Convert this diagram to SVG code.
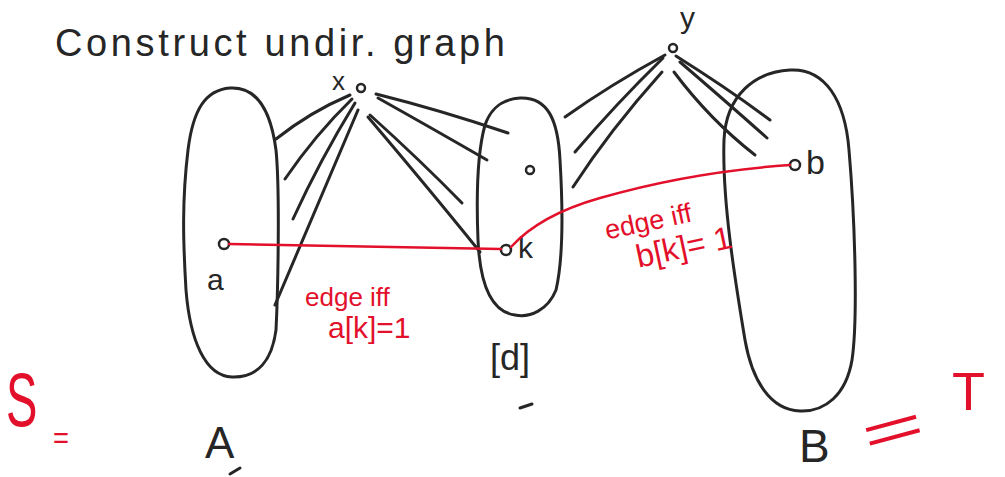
<svg xmlns="http://www.w3.org/2000/svg" width="1005" height="477" viewBox="0 0 1005 477">
<style>
.ink{fill:none;stroke:#262626;stroke-width:3;stroke-linecap:round;stroke-linejoin:round}
.red{fill:none;stroke:#e3102b;stroke-width:2.5;stroke-linecap:round}
.dot{fill:none;stroke:#262626;stroke-width:2.5}
.t{font-family:"Liberation Sans",Arial,sans-serif;fill:#262626}
.rt{font-family:"Liberation Sans",Arial,sans-serif;fill:#e3102b}
</style>
<rect width="1005" height="477" fill="#ffffff"/>
<text class="t" x="55" y="56" font-size="38" textLength="450">Construct undir. graph</text>

<g id="setA">
<path class="ink" d="M230,88 C262,86 272,120 276,150 C280,190 278,290 276,330 C272,360 258,378 232,377 C205,376 190,340 186,290 C183,240 182,200 188,150 C193,110 205,90 230,88 Z"/>
<text class="t" x="205" y="458" font-size="44">A</text>
<path class="ink" d="M230,474 L240,468"/>
</g>
<g id="setD">
<path class="ink" d="M520,98 C548,97 558,120 560,160 C563,210 563,260 556,290 C548,310 530,318 515,315 C492,312 480,285 478,240 C476,190 478,150 485,125 C492,105 505,99 520,98 Z"/>
<text class="t" x="490" y="370" font-size="36">[d]</text>
<path class="ink" d="M520,408 L532,404"/>
</g>
<g id="setB">
<path class="ink" d="M790,70 C825,68 845,100 849,150 C855,220 858,320 852,360 C846,395 825,412 800,411 C770,410 752,380 745,340 C735,280 722,200 724,140 C726,95 755,72 790,70 Z"/>
<text class="t" x="799" y="462" font-size="46">B</text>
</g>
<g id="nodeX">
<text class="t" x="332" y="90" font-size="26">x</text>
<circle class="dot" cx="361" cy="88" r="4"/>
</g>
<g id="nodeY">
<text class="t" x="680" y="28" font-size="30">y</text>
<circle class="dot" cx="673" cy="48" r="4"/>
</g>
<g id="nodeO">
<circle class="dot" cx="530" cy="170" r="4"/>
</g>
<g id="nodeA">
<circle class="dot" cx="224" cy="244" r="5"/>
<text class="t" x="207" y="290" font-size="30">a</text>
</g>
<g id="nodeK">
<circle class="dot" cx="506" cy="250" r="5"/>
<text class="t" x="518" y="258" font-size="30">k</text>
</g>
<g id="nodeBb">
<circle class="dot" cx="795" cy="165" r="5"/>
<text class="t" x="806" y="174" font-size="34">b</text>
</g>

<g id="connectors">
<path class="ink" d="M350,95 Q310,112 276,139"/>
<path class="ink" d="M352,99 Q315,135 285,179"/>
<path class="ink" d="M355,103 Q320,160 293,219"/>
<path class="ink" d="M358,110 Q315,210 275,305"/>
<path class="ink" d="M376,94 Q440,110 508,133"/>
<path class="ink" d="M378,98 Q435,130 487,160"/>
<path class="ink" d="M370,115 Q420,160 462,203"/>
<path class="ink" d="M368,117 Q430,190 480,252"/>
<path class="ink" d="M665,55 Q610,85 565,117"/>
<path class="ink" d="M663,58 Q615,105 575,152"/>
<path class="ink" d="M662,72 Q610,130 573,187"/>
<path class="ink" d="M676,56 Q730,90 770,120"/>
<path class="ink" d="M680,62 Q730,105 767,138"/>
<path class="ink" d="M674,72 Q710,120 755,155"/>
<path class="red" d="M229,244 Q360,246 501,249"/>
<path class="red" d="M511,247 Q540,215 600,198 Q690,172 790,165"/>
</g>
<g id="labels">
<text class="rt" x="305" y="306" font-size="26">edge iff</text>
<text class="rt" x="328" y="338" font-size="30">a[k]=1</text>
<g transform="rotate(-12 660 215)">
<text class="rt" x="603" y="228" font-size="27">edge iff</text>
<text class="rt" x="628" y="262" font-size="32">b[k]= 1</text>
</g>
<text class="rt" font-size="76" transform="translate(6,426) scale(0.62,1)">S</text>
<text class="rt" x="53" y="448" font-size="30" textLength="16" lengthAdjust="spacingAndGlyphs">=</text>
<text class="rt" x="862" y="448" font-size="56" textLength="62" lengthAdjust="spacingAndGlyphs" transform="rotate(-15 895 430)">=</text>
<text class="rt" x="952" y="410" font-size="54">T</text>
</g>
</svg>
